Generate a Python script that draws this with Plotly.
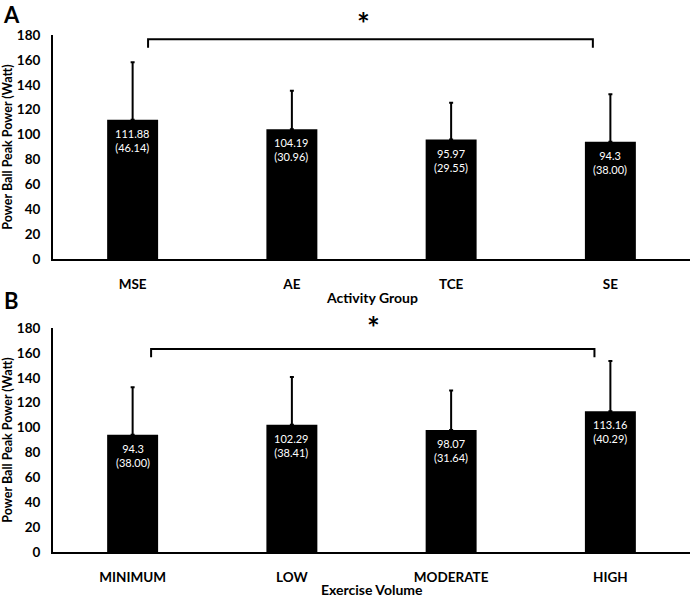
import plotly.graph_objects as go
from plotly.subplots import make_subplots

# ---- data ----
groups_a = ["MSE", "AE", "TCE", "SE"]
means_a = [111.88, 104.19, 95.97, 94.3]
sds_a = [46.14, 30.96, 29.55, 38.00]

groups_b = ["MINIMUM", "LOW", "MODERATE", "HIGH"]
means_b = [94.3, 102.29, 98.07, 113.16]
sds_b = [38.00, 38.41, 31.64, 40.29]

y_ticks = [0, 20, 40, 60, 80, 100, 120, 140, 160, 180]
y_title = "Power Ball Peak Power (Watt)"
x_title_a = "Activity Group"
x_title_b = "Exercise Volume"

FONT = "Lato"
W, H = 692, 598
ML, MR, MT, MB = 53, 2, 35, 46
PLOT_W = W - ML - MR
PLOT_H = H - MT - MB
PANEL_H = 224


def px_to_paper(px, py):
    """picture pixel -> paper coordinates"""
    return (px - ML) / PLOT_W, (H - MB - py) / PLOT_H


fig = make_subplots(rows=2, cols=1)


def add_panel(cats, means, sds, row):
    xr = "x" if row == 1 else "x2"
    yr = "y" if row == 1 else "y2"
    fig.add_trace(
        go.Bar(
            x=cats, y=means, width=0.32,
            marker=dict(color="black", line=dict(width=0)),
            error_y=dict(type="data", array=sds, symmetric=False,
                         arrayminus=[0] * len(sds), color="black",
                         thickness=2, width=2),
            showlegend=False, hoverinfo="skip",
        ),
        row=row, col=1,
    )
    for c, m, s in zip(cats, means, sds):
        fig.add_annotation(
            x=c, y=m, xref=xr, yref=yr, text=f"{m}<br>({s:.2f})",
            showarrow=False, yanchor="top", yshift=-5, align="center",
            font=dict(family=FONT, size=11, color="white"),
        )


add_panel(groups_a, means_a, sds_a, 1)
add_panel(groups_b, means_b, sds_b, 2)

axis_common = dict(showline=True, linecolor="black", linewidth=2,
                   showgrid=False, zeroline=False, ticks="",
                   automargin=False,
                   tickfont=dict(family=FONT, size=13.5, color="black",
                                 weight="bold"))

fig.update_yaxes(range=[0, 180], tickvals=y_ticks, ticklabelstandoff=8,
                 title=dict(text=y_title, standoff=10,
                            font=dict(family=FONT, size=12.5, color="black",
                                      weight="bold")),
                 **axis_common)
fig.update_xaxes(ticklabelstandoff=12, **axis_common)
fig.update_yaxes(domain=[1 - PANEL_H / PLOT_H, 1.0], row=1, col=1)
fig.update_yaxes(domain=[0.0, PANEL_H / PLOT_H], row=2, col=1)

# x-axis titles
for txt, py in [(x_title_a, 297), (x_title_b, 589)]:
    _, yp = px_to_paper(372, py)
    fig.add_annotation(x=0.5, y=yp, xref="paper", yref="paper", text=txt,
                       showarrow=False, xanchor="center", yanchor="middle",
                       font=dict(family=FONT, size=14, color="black",
                                 weight="bold"))

# significance brackets
brackets = [
    ("x", "y", 0.097, 2.89, 176.5, 169.7, 1.447, 23.5),
    ("x2", "y2", 0.116, 2.90, 163.2, 156.4, 1.51, 327),
]
for xr, yr, x0, x1, yh, ye, xs, ys_px in brackets:
    fig.add_shape(type="path", xref=xr, yref=yr,
                  path=f"M {x0},{ye} L {x0},{yh} L {x1},{yh} L {x1},{ye}",
                  line=dict(color="black", width=2))
    _, yp = px_to_paper(0, ys_px)
    fig.add_annotation(x=xs, y=yp, xref=xr, yref="paper", text="*",
                       showarrow=False, xanchor="center", yanchor="middle",
                       font=dict(family=FONT, size=30, color="black",
                                 weight="bold"))

# panel letters
for letter, px, py in [("A", 11, 14), ("B", 11, 300)]:
    xp, yp = px_to_paper(px, py)
    fig.add_annotation(
        x=xp, y=yp, xref="paper", yref="paper", text=letter, showarrow=False,
        xanchor="center", yanchor="middle",
        font=dict(family=FONT, size=22, color="black", weight="bold"),
    )

fig.update_layout(
    width=W, height=H,
    margin=dict(l=ML, r=MR, t=MT, b=MB, autoexpand=False),
    paper_bgcolor="white", plot_bgcolor="white",
)

# remove the default 8px page margin so the figure fills the window
fig.write_html("out.html",
               config={"displayModeBar": False},
               post_script="document.body.style.margin='0';")
